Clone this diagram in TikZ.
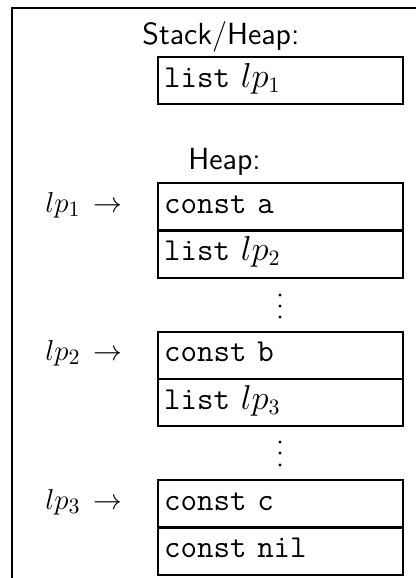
\documentclass[tikz,border=0pt]{standalone}
\begin{document}
\begin{tikzpicture}[x=0.5pt,y=-0.5pt,
  every node/.style={font=\fontsize{15.3}{18}\selectfont},
  cell/.style={draw, line width=1.2pt, anchor=north west, minimum width=122.5pt,
    minimum height=23.5pt, inner xsep=3pt, inner ysep=0pt, text width=116.5pt,
    align=left, text height=9.5pt, text depth=3pt,
    font=\fontsize{16}{19}\selectfont\ttfamily},
  lbl/.style={anchor=base west, inner sep=0pt,
    font=\fontsize{15.3}{18}\selectfont\sffamily},
  ptr/.style={anchor=base west, inner sep=0pt},
  dot/.style={circle, fill, inner sep=0pt, minimum size=1.7pt}]
\useasboundingbox (0,0) rectangle (416,578);
% frame
\draw[line width=1.3pt] (12,578) -- (12,8) -- (416,8);
% labels
\node[lbl] (sh) at (142,44) {Stack/Heap:};
\node[lbl] (hp) at (188,169) {Heap:};
% stack cell
\node[cell] (s1) at (157,56) {list $lp_1$};
% heap cells
\node[cell] (a1) at (157,182) {const a};
\node[cell] (a2) at (157,229.5) {list $lp_2$};
\node[cell] (b1) at (157,330.5) {const b};
\node[cell] (b2) at (157,378) {list $lp_3$};
\node[cell] (c1) at (157,479) {const c};
\node[cell] (c2) at (157,526.5) {const nil};
% pointers
\node[ptr] (p1) at (45,212) {$lp_1$};
\node[ptr] (r1) at (93,212) {$\rightarrow$};
\node[ptr] (p2) at (45,360.5) {$lp_2$};
\node[ptr] (r2) at (93,360.5) {$\rightarrow$};
\node[ptr] (p3) at (45,509) {$lp_3$};
\node[ptr] (r3) at (93,509) {$\rightarrow$};
% dots
\node[dot] (d1) at (280,295) {};
\node[dot] (d2) at (280,306) {};
\node[dot] (d3) at (280,317) {};
\node[dot] (e1) at (280,442) {};
\node[dot] (e2) at (280,453) {};
\node[dot] (e3) at (280,465) {};
\end{tikzpicture}
\end{document}
